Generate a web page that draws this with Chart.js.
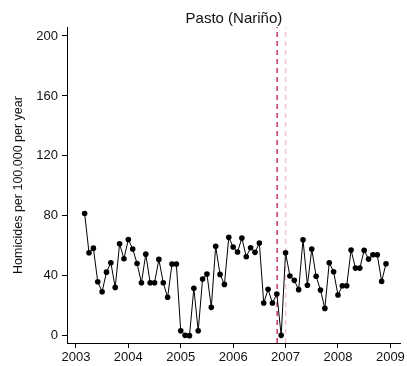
<!DOCTYPE html>
<html>
<head>
<meta charset="utf-8">
<script src="https://cdn.jsdelivr.net/npm/chart.js@4"></script>
<style>
	body { margin: 0; background: #fff; }
	#khung { width: 407px; height: 366px; }
</style>
</head>
<body>
<div id="khung"><canvas id="bieuDo" width="407" height="366"></canvas></div>
<script>
// monthly series, first value is March 2003
var startYear = 2003;
var startMonth = 3;
var homicideRate = [
	81.5, 55.3, 58.4, 36.0, 29.3, 42.4, 48.7, 32.2, 61.3, 51.3,
	64.2, 57.8, 48.2, 35.3, 54.4, 35.3, 35.3, 50.9, 35.3, 25.6, 47.8, 47.8,
	3.3, 0.2, 0.0, 31.6, 3.3, 37.8, 41.1, 18.9, 59.6, 40.9, 34.2, 65.6,
	59.1, 55.8, 65.1, 52.7, 58.7, 55.6, 61.8, 21.8, 30.9, 21.8, 27.8, 0.2,
	55.3, 39.8, 36.9, 30.7, 64.0, 33.6, 57.8, 39.6, 30.4, 18.2, 48.7, 42.7,
	27.1, 33.3, 33.3, 57.1, 45.1, 45.1, 56.9, 51.1, 54.0, 54.0, 36.2, 48.0
];
var yearTicks = [2003, 2004, 2005, 2006, 2007, 2008, 2009];
var rateTicks = [0, 40, 80, 120, 160, 200];
var markerDates = [2006.84, 2007.0];
var markerColors = ['#c8385f', '#f5c2d1'];
var tieuDe = 'Pasto (Nariño)';
var nhanTrucY = 'Homicides per 100,000 per year';

var yMin = -4.9, yMax = 206;
var fontChu = '"Liberation Sans", Arial, sans-serif';

var diem = homicideRate.map((v, i) => {
	var m = startMonth - 1 + i;
	return { x: startYear + m / 12, y: v };
});

var datasets = [
	{
		data: diem,
		borderColor: '#000',
		backgroundColor: '#000',
		borderWidth: 1,
		pointRadius: 2.8,
		pointBorderWidth: 0,
		pointBackgroundColor: '#000'
	}
];
markerDates.forEach((d, i) => {
	datasets.push({
		data: [{ x: d, y: yMin }, { x: d, y: yMax }],
		borderColor: markerColors[i],
		borderWidth: 1.5,
		borderDash: [5, 4],
		pointRadius: 0
	});
});

var veTieuDe = {
	id: 'veTieuDe',
	afterDraw(chart) {
		var ctx = chart.ctx;
		var a = chart.chartArea;
		ctx.save();
		ctx.fillStyle = '#111';
		ctx.font = '15px ' + fontChu;
		ctx.textAlign = 'center';
		ctx.textBaseline = 'middle';
		ctx.fillText(tieuDe, (a.left + a.right) / 2, 19);
		ctx.restore();
	}
};

new Chart(document.getElementById('bieuDo').getContext('2d'), {
	type: 'line',
	data: { datasets: datasets },
	plugins: [veTieuDe],
	options: {
		responsive: false,
		devicePixelRatio: 1,
		animation: false,
		layout: { padding: { top: 27, right: 5, left: 0, bottom: 0 } },
		plugins: {
			legend: { display: false },
			tooltip: { enabled: false },
			title: { display: false }
		},
		scales: {
			x: {
				type: 'linear',
				min: 2002.83,
				max: 2009.2,
				afterBuildTicks: (s) => { s.ticks = yearTicks.map(v => ({ value: v })); },
				afterFit: (s) => { s.height = 23; },
				grid: { drawOnChartArea: false, color: '#000', tickLength: 5, tickWidth: 1 },
				border: { color: '#000', width: 1 },
				ticks: {
					color: '#111',
					font: { family: fontChu, size: 13 },
					padding: 2,
					maxRotation: 0,
					callback: (v) => String(v)
				}
			},
			y: {
				min: yMin,
				max: yMax,
				afterBuildTicks: (s) => { s.ticks = rateTicks.map(v => ({ value: v })); },
				afterFit: (s) => { s.width = 67; },
				grid: { drawOnChartArea: false, color: '#000', tickLength: 5, tickWidth: 1 },
				border: { color: '#000', width: 1 },
				ticks: {
					color: '#111',
					font: { family: fontChu, size: 13 },
					padding: 4,
					callback: (v) => String(v)
				},
				title: {
					display: true,
					text: nhanTrucY,
					color: '#111',
					font: { family: fontChu, size: 12.5 },
					padding: { top: 11, bottom: 0 }
				}
			}
		}
	}
});
</script>
</body>
</html>
